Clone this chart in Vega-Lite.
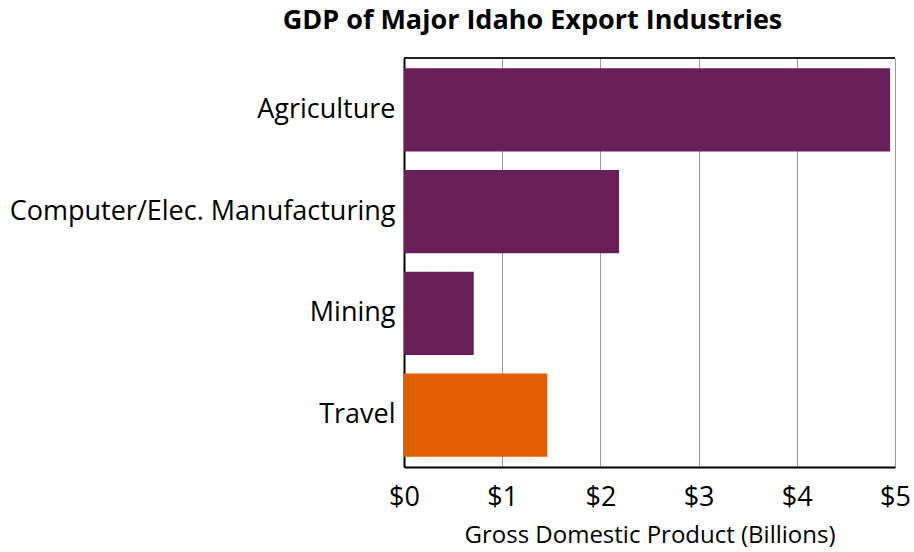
{
  "$schema": "https://vega.github.io/schema/vega-lite/v6.json",
  "width": 491,
  "height": 409,
  "autosize": {"type": "none"},
  "padding": {"left": 404, "top": 58, "right": 19, "bottom": 85},
  "title": {
    "text": "GDP of Major Idaho Export Industries",
    "font": "Open Sans",
    "fontSize": 27,
    "fontWeight": "bold",
    "color": "#000000",
    "anchor": "middle",
    "frame": "group",
    "dx": -117,
    "offset": 22
  },
  "config": {
    "view": {"stroke": null},
    "font": "Open Sans"
  },
  "data": {
    "values": [
      {"industry": "Agriculture", "gdp": 4.95, "group": "export"},
      {"industry": "Computer/Elec. Manufacturing", "gdp": 2.19, "group": "export"},
      {"industry": "Mining", "gdp": 0.71, "group": "export"},
      {"industry": "Travel", "gdp": 1.46, "group": "travel"}
    ]
  },
  "layer": [
    {
      "mark": {"type": "bar"},
      "encoding": {
        "y": {
          "field": "industry",
          "type": "nominal",
          "sort": null,
          "scale": {"paddingInner": 0.18, "paddingOuter": 0.1},
          "axis": {
            "title": null,
            "labelFontSize": 27,
            "labelColor": "#000000",
            "labelPadding": 9,
            "labelLimit": 0,
            "ticks": false,
            "domainColor": "#000000",
            "domainWidth": 2,
            "labelFont": "Open Sans"
          }
        },
        "x": {
          "field": "gdp",
          "type": "quantitative",
          "scale": {"domain": [0, 5], "nice": false},
          "axis": {
            "title": "Gross Domestic Product (Billions)",
            "titleFontSize": 24,
            "titleFontWeight": "normal",
            "titleColor": "#000000",
            "titlePadding": 13,
            "labelFontSize": 27,
            "labelColor": "#000000",
            "labelPadding": 17,
            "labelExpr": "'$' + datum.value",
            "tickCount": 5,
            "ticks": false,
            "grid": true,
            "gridColor": "#999999",
            "gridWidth": 1,
            "domainColor": "#000000",
            "domainWidth": 2,
            "labelFlush": false
          }
        },
        "color": {
          "field": "group",
          "type": "nominal",
          "scale": {"domain": ["export", "travel"], "range": ["#681F57", "#E15F00"]},
          "legend": null
        }
      }
    },
    {
      "mark": {"type": "rule", "color": "#222222", "strokeWidth": 2},
      "encoding": {
        "x": {"datum": 0, "type": "quantitative"},
        "x2": {"datum": 5},
        "y": {"value": 0}
      }
    }
  ]
}
